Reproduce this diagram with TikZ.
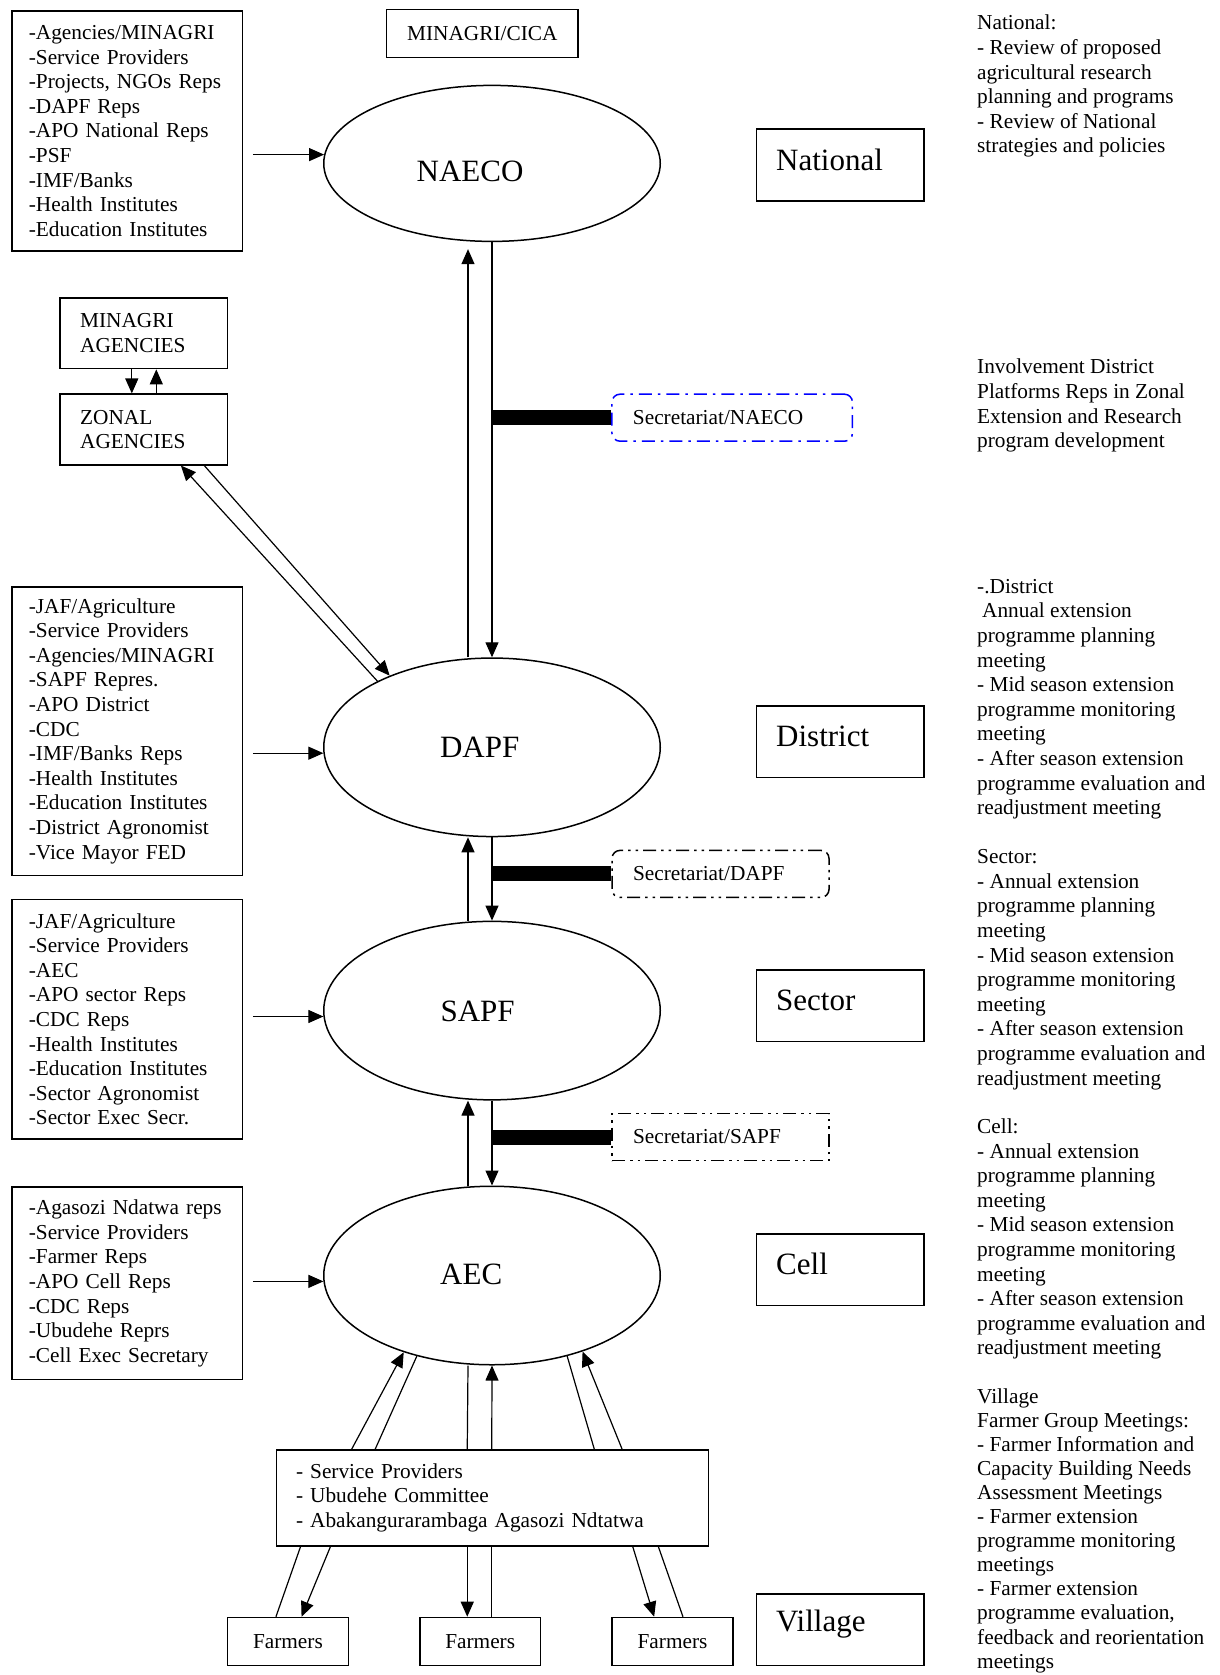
\documentclass[tikz,border=0pt]{standalone}
\usepackage{fontspec}
\setmainfont{Liberation Serif}
\usetikzlibrary{arrows.meta}
\usetikzlibrary{shapes.geometric}

\tikzset{
 arr/.style={line width=1.2pt, -{Triangle[length=15pt,width=13pt]}},
 ln/.style={line width=1.2pt},
 lbox/.style={draw, line width=1.5pt, inner xsep=17pt, text width=196.7pt, align=left},
 abox/.style={draw, line width=1.5pt, minimum width=167.7pt, minimum height=70.6pt, inner xsep=20.3pt, text width=127.1pt, align=left},
 lvl/.style={draw, line width=1.5pt, minimum width=167.7pt, minimum height=71.6pt},
 lvltxt/.style={anchor=west, xshift=20.4pt, yshift=5.5pt, inner sep=0pt, font=\fontsize{31pt}{35pt}\selectfont},
 ell/.style={draw, ellipse, line width=1.5pt, minimum width=336.5pt, minimum height=178.5pt},
 elltxt/.style={font=\fontsize{31pt}{35pt}\selectfont, inner sep=0pt},
 note/.style={anchor=north west, align=left, inner sep=0pt},
 sec/.style={draw, line width=1.5pt, inner xsep=21pt, minimum height=47pt, align=left, text width=#1},
 bar/.style={line width=15pt},
 fbox/.style={draw, line width=1.5pt, minimum width=120.8pt, minimum height=48.1pt},
}

\begin{document}
\begin{tikzpicture}[x=1pt, y=-1pt, font=\fontsize{21.3pt}{24.6pt}\selectfont]
\useasboundingbox (0,0) rectangle (1220,1675);

\node[lbox, minimum height=240.4pt] (natin) at (127.2,131) {-Agencies/MINAGRI\\-Service Providers\\-Projects, NGOs Reps\\-DAPF Reps\\-APO National Reps\\-PSF\\-IMF/Banks\\-Health Institutes\\-Education Institutes};
\node[draw, line width=1.5pt, minimum width=191.3pt, minimum height=48pt] (cica) at (482.3,33.6) {MINAGRI/CICA};
\node[ell, minimum height=156pt, label={[elltxt, xshift=-22pt, yshift=-7.5pt]center:NAECO}] (naeco) at (492,163.4) {};
\draw[arr, shorten <=9.6pt] (natin.east |- naeco.177) -- (naeco.177);

\node[abox] (minag) at (143.7,333.3) {MINAGRI\\AGENCIES};
\node[abox] (zonal) at (143.7,429.5) {ZONAL\\AGENCIES};
\draw[arr] ([xshift=72.7pt]minag.south west) -- ([xshift=72.7pt]zonal.north west);
\draw[arr] ([xshift=97.2pt]zonal.north west) -- ([xshift=97.2pt]minag.south west);

\node[lbox, minimum height=288.5pt] (dapfin) at (127.2,731) {-JAF/Agriculture\\-Service Providers\\-Agencies/MINAGRI\\-SAPF Repres.\\-APO District\\-CDC\\-IMF/Banks Reps\\-Health Institutes\\-Education Institutes\\-District Agronomist\\-Vice Mayor FED};
\node[ell, label={[elltxt, xshift=-12.3pt]center:DAPF}] (dapf) at (492,747.3) {};
\draw[arr, shorten <=9.6pt] (dapfin.east |- dapf.182) -- (dapf.182);

\node[lbox, minimum height=239.3pt] (sapfin) at (127.2,1019.3) {-JAF/Agriculture\\-Service Providers\\-AEC\\-APO sector Reps\\-CDC Reps\\-Health Institutes\\-Education Institutes\\-Sector Agronomist\\-Sector Exec Secr.};
\node[ell, label={[elltxt, xshift=-14.4pt, yshift=-1pt]center:SAPF}] (sapf) at (492,1010.6) {};
\draw[arr, shorten <=9.6pt] (sapfin.east |- sapf.182) -- (sapf.182);

\node[lbox, minimum height=192.3pt] (aecin) at (127.2,1283.3) {-Agasozi Ndatwa reps\\-Service Providers\\-Farmer Reps\\-APO Cell Reps\\-CDC Reps\\-Ubudehe Reprs\\-Cell Exec Secretary};
\node[ell, label={[elltxt, xshift=-20.8pt, yshift=1pt]center:AEC}] (aec) at (492,1275.5) {};
\draw[arr, shorten <=9.6pt] (aecin.east |- aec.182) -- (aec.182);

\draw[arr, shorten >=7pt] ([xshift=-24pt]dapf.north) -- ([xshift=-24pt]naeco.south);
\draw[arr] (naeco.south) -- (dapf.north);
\draw[arr] ([xshift=-24pt]sapf.north) -- ([xshift=-24pt]dapf.south);
\draw[arr] (dapf.south) -- (sapf.north);
\draw[arr] ([xshift=-24pt]aec.north) -- ([xshift=-24pt]sapf.south);
\draw[arr] (sapf.south) -- (aec.north);

\draw[arr] (dapf.150) -- ([xshift=121.8pt]zonal.south west);
\draw[arr] ([xshift=145.2pt]zonal.south west) -- (dapf.145);

\node[sec=198.5pt, draw=blue, rounded corners=8pt, dash pattern=on 13pt off 6pt on 2.5pt off 6pt] (secnaeco) at (732.2,417.7) {Secretariat/NAECO};
\node[sec=175pt, rounded corners=8pt, dash pattern=on 13pt off 5pt on 2.5pt off 5pt on 2.5pt off 5pt] (secdapf) at (720.5,873.9) {Secretariat/DAPF};
\node[sec=175pt, dash pattern=on 13pt off 5pt on 2.5pt off 5pt on 2.5pt off 5pt] (secsapf) at (720.5,1137) {Secretariat/SAPF};
\draw[bar] (secnaeco.west) -- (secnaeco.west -| naeco.south);
\draw[bar] (secdapf.west) -- (secdapf.west -| dapf.south);
\draw[bar] (secsapf.west) -- (secsapf.west -| sapf.south);

\foreach \n/\t/\y in {natlvl/National/165, dislvl/District/741.9, seclvl/Sector/1005.8, celllvl/Cell/1269.7, vilvl/Village/1629.7}
 \node[lvl, label={[lvltxt]west:\t}] (\n) at (840.2,\y) {};

\node[draw, line width=1.5pt, inner xsep=19.3pt, text width=393pt, align=left, minimum height=96.1pt] (spbox) at (492.5,1497.8) {- Service Providers\\- Ubudehe Committee\\- Abakangurarambaga Agasozi Ndtatwa};
\foreach \i/\x in {1/287.9, 2/480.2, 3/672.5}
 \node[fbox] (farm\i) at (\x,1641.5) {Farmers};

\draw[arr] ([xshift=75.8pt]spbox.north west) -- (aec.221);
\draw[ln] ([xshift=99.3pt]spbox.north west) -- (aec.227);
\draw[ln] ([xshift=191.3pt]spbox.north west) -- ([xshift=-24pt]aec.south);
\draw[arr] ([xshift=215.8pt]spbox.north west) -- (aec.south);
\draw[ln] ([xshift=318.3pt]spbox.north west) -- (aec.313);
\draw[arr] ([xshift=346.1pt]spbox.north west) -- (aec.320);

\draw[ln] ([xshift=49.2pt]farm1.north west) -- ([xshift=24.6pt]spbox.south west);
\draw[arr] ([xshift=54.5pt]spbox.south west) -- ([xshift=74.8pt]farm1.north west);
\draw[arr] ([xshift=191.3pt]spbox.south west) -- ([xshift=48.2pt]farm2.north west);
\draw[ln] ([xshift=72.7pt]farm2.north west) -- ([xshift=215.8pt]spbox.south west);
\draw[arr] ([xshift=356.8pt]spbox.south west) -- ([xshift=42.8pt]farm3.north west);
\draw[ln] ([xshift=71.6pt]farm3.north west) -- ([xshift=382.4pt]spbox.south west);

\node[note] (natnote) at (977,15) {National:\\- Review of proposed\\agricultural research\\planning and programs\\- Review of National\\strategies and policies};
\node[note] (zonnote) at (977,359) {Involvement District\\Platforms Reps in Zonal\\Extension and Research\\program development};
\node[note] (disnote) at (977,579) {-.District\\\hspace*{5pt}Annual extension\\programme planning\\meeting\\- Mid season extension\\programme monitoring\\meeting\\- After season extension\\programme evaluation and\\readjustment meeting};
\node[note] (secnote) at (977,849.3) {Sector:\\- Annual extension\\programme planning\\meeting\\- Mid season extension\\programme monitoring\\meeting\\- After season extension\\programme evaluation and\\readjustment meeting};
\node[note] (cellnote) at (977,1118.5) {Cell:\\- Annual extension\\programme planning\\meeting\\- Mid season extension\\programme monitoring\\meeting\\- After season extension\\programme evaluation and\\readjustment meeting};
\node[note, font=\fontsize{21.3pt}{24.1pt}\selectfont] (vilnote) at (977,1388) {Village\\Farmer Group Meetings:\\- Farmer Information and\\Capacity Building Needs\\Assessment Meetings\\- Farmer extension\\programme monitoring\\meetings\\- Farmer extension\\programme evaluation,\\feedback and reorientation\\meetings};
\end{tikzpicture}
\end{document}
